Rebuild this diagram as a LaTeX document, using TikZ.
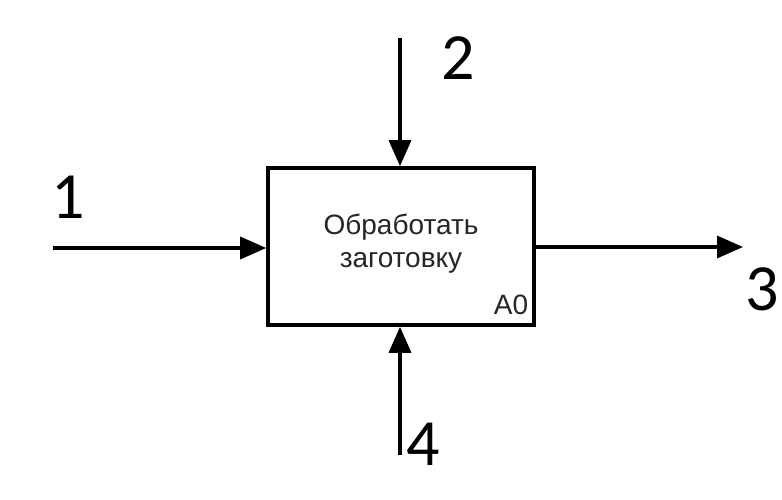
\documentclass[tikz,border=0pt]{standalone}
\usepackage{fontspec}
\setmainfont{Liberation Sans}
\newfontfamily\digitfont{Carlito}
\usetikzlibrary{arrows.meta}
\begin{document}
\begin{tikzpicture}[x=1pt,y=-1pt,
  flow/.style={line width=3.4pt,-{Triangle[length=26pt,width=22pt]}},
  numlabel/.style={font=\digitfont\fontsize{66}{66}\selectfont,inner sep=0pt},
  boxtext/.style={font=\fontsize{28}{33}\selectfont,align=center,inner sep=0pt}]
\fill[white] (0,0) rectangle (782,499);
\useasboundingbox (0,0) rectangle (782,499);
\node[draw,line width=3.6pt,minimum width=266pt,minimum height=157pt,inner sep=0pt] (box) at (401,246.5) {};
\node[boxtext,color=black!85] (txt) at (401,244) {Обработать\\заготовку};
\node[boxtext,color=black!85,anchor=center] (a0) at (511,305) {A0};
\coordinate (inL) at (53,248);
\coordinate (ctlT) at (400,38);
\coordinate (outR) at (743,247);
\coordinate (mechB) at (400,455);
\draw[flow] (inL) -- (inL -| box.west);
\draw[flow] (ctlT) -- (ctlT |- box.north);
\draw[flow] (outR -| box.east) -- (outR);
\draw[flow] (mechB) -- (mechB |- box.south);
\node[numlabel] (n1) at (68,197) {1};
\node[numlabel] (n2) at (458,58) {2};
\node[numlabel] (n3) at (762,289) {3};
\node[numlabel] (n4) at (423,444) {4};
\end{tikzpicture}
\end{document}
